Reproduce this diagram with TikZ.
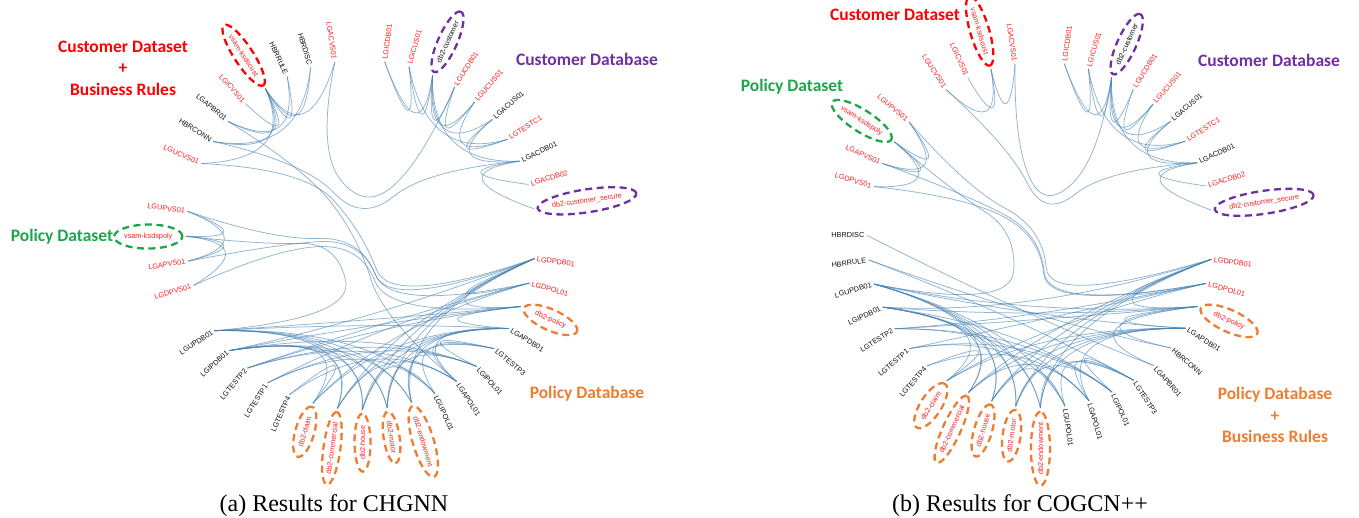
\documentclass[tikz,border=0pt]{standalone}
\usepackage{fontspec}
\setmainfont{Liberation Serif}
\newfontfamily\lblfont{Liberation Sans}
\newfontfamily\ttlfont{Carlito}
\usetikzlibrary{calc,shapes.geometric}
\definecolor{lred}{HTML}{FF1F1F}
\definecolor{tred}{HTML}{FF0000}
\definecolor{tpurple}{HTML}{7030A0}
\definecolor{tgreen}{HTML}{1DA64A}
\definecolor{torange}{HTML}{ED7D31}
\definecolor{edgeblue}{RGB}{70,130,180}
\definecolor{lblack}{HTML}{111111}
\tikzset{
 lbl/.style={font=\lblfont\fontsize{7.3}{8.5}\selectfont, inner sep=0pt},
 ell/.style={ellipse, draw=#1, line width=2.3pt, dash pattern=on 7pt off 4.5pt, inner xsep=0pt, inner ysep=0pt, minimum width=52pt, minimum height=19pt},
 bedge/.style={draw=edgeblue, line width=0.75pt, draw opacity=0.6},
 ttl/.style={font=\ttlfont\bfseries\fontsize{17.5}{21.5}\selectfont, align=center, inner sep=0pt},
 capt/.style={font=\fontsize{24}{27}\selectfont, inner sep=0pt, anchor=base},
}
% leaf: [extra options]{id}{center}{slot}{text}{text colour}{hub}
\newcommand\leaf[7][]{%
  \pgfmathsetmacro\ang{mod(\base+#4*360/44,360)}%
  \pgfmathsetmacro\rr{\Rad+2.5}%
  \coordinate (#2) at ($(#3)+(\ang:\Rad)$);
  \coordinate (h-#2) at (#7);
  \def\side{R}%
  \ifdim\ang pt>90pt \ifdim\ang pt<270.5pt \def\side{L}\fi\fi
  \if L\side
    \node[lbl, text=#6, anchor=east, rotate=\ang-180, #1] (t-#2) at ($(#3)+(\ang:\rr)$) {#5};
  \else
    \node[lbl, text=#6, anchor=west, rotate=\ang, #1] (t-#2) at ($(#3)+(\ang:\rr)$) {#5};
  \fi
}
% edge inside one group
\newcommand\eS[2]{%
  \path ($(#1)!0.5!(#2)$) coordinate (tM);
  \path ($(h-#1)!0.15!(tM)$) coordinate (tH);
  \draw[bedge] (#1) .. controls ($(#1)!0.6667!(tH)$) and ($(#2)!0.6667!(tH)$) .. (#2);
}
% edge between groups, through the root #1
\newcommand\eD[3]{%
  \path ($(#2)!0.25!(#3)$) coordinate (tA) ($(#2)!0.5!(#3)$) coordinate (tB) ($(#2)!0.75!(#3)$) coordinate (tC);
  \path ($(h-#2)!0.15!(tA)$) coordinate (q1) ($(#1)!0.15!(tB)$) coordinate (q2) ($(h-#3)!0.15!(tC)$) coordinate (q3);
  \path ($(q1)!0.5!(q2)$) coordinate (m1) ($(q2)!0.5!(q3)$) coordinate (m2);
  \draw[bedge] (#2) .. controls ($(#2)!0.6667!(q1)$) and ($(m1)!0.6667!(q1)$) .. (m1)
     .. controls ($(m1)!0.6667!(q2)$) and ($(m2)!0.6667!(q2)$) .. (m2)
     .. controls ($(m2)!0.6667!(q3)$) and ($(#3)!0.6667!(q3)$) .. (#3);
}
\newcommand\bottomedges[1]{%
 \eS{#1-UPDB}{#1-POL}\eS{#1-UPDB}{#1-ENDOW}\eS{#1-UPDB}{#1-HOUSE}\eS{#1-UPDB}{#1-MOTOR}\eS{#1-UPDB}{#1-COMM}\eS{#1-UPDB}{#1-APDB}
 \eS{#1-IPDB}{#1-POL}\eS{#1-IPDB}{#1-ENDOW}\eS{#1-IPDB}{#1-HOUSE}\eS{#1-IPDB}{#1-MOTOR}\eS{#1-IPDB}{#1-COMM}\eS{#1-IPDB}{#1-CLAIM}\eS{#1-IPDB}{#1-DPDB}
 \eS{#1-TP2}{#1-IPOL}\eS{#1-TP2}{#1-APOL}\eS{#1-TP2}{#1-POL}\eS{#1-TP2}{#1-DPOL}
 \eS{#1-TP1}{#1-IPOL}\eS{#1-TP1}{#1-UPOL}\eS{#1-TP1}{#1-DPOL}
 \eS{#1-TP4}{#1-APOL}\eS{#1-TP4}{#1-CLAIM}
 \eS{#1-APDB}{#1-POL}\eS{#1-APDB}{#1-ENDOW}\eS{#1-APDB}{#1-HOUSE}\eS{#1-APDB}{#1-MOTOR}\eS{#1-APDB}{#1-COMM}\eS{#1-APDB}{#1-CLAIM}
 \eS{#1-DPDB}{#1-POL}\eS{#1-DPDB}{#1-ENDOW}\eS{#1-DPDB}{#1-HOUSE}\eS{#1-DPDB}{#1-MOTOR}\eS{#1-DPDB}{#1-COMM}
 \eS{#1-DPOL}{#1-DPDB}\eS{#1-DPOL}{#1-CLAIM}
 \eS{#1-UPOL}{#1-UPDB}\eS{#1-UPOL}{#1-HOUSE}
 \eS{#1-APOL}{#1-APDB}\eS{#1-APOL}{#1-COMM}
 \eS{#1-IPOL}{#1-IPDB}\eS{#1-IPOL}{#1-MOTOR}
 \eS{#1-TP3}{#1-UPOL}\eS{#1-TP3}{#1-APOL}\eS{#1-TP3}{#1-IPOL}\eS{#1-TP3}{#1-ENDOW}
}
\newcommand\custdbedges[1]{%
 \eS{#1-CUST}{#1-ICDB}\eS{#1-CUST}{#1-ICUS}\eS{#1-CUST}{#1-UCDB}\eS{#1-CUST}{#1-ACDB}\eS{#1-CUST}{#1-UCUS}\eS{#1-CUST}{#1-ACUS}
 \eS{#1-ICUS}{#1-ICDB}\eS{#1-UCUS}{#1-UCDB}\eS{#1-ACUS}{#1-ACDB}
 \eS{#1-TC1}{#1-ICUS}\eS{#1-TC1}{#1-UCUS}\eS{#1-TC1}{#1-ACUS}
 \eS{#1-ACDB}{#1-ACDB2}\eS{#1-ACDB}{#1-CSEC}
}
\newcommand\poldsedges[1]{%
 \eS{#1-KPOL}{#1-UPVS}\eS{#1-KPOL}{#1-APVS}\eS{#1-KPOL}{#1-DPVS}\eS{#1-UPVS}{#1-APVS}
}
% customer database leaves, slots 33-42 (same in both pictures)
\newcommand\custdbleaves[2]{%
 \leaf[ell=tpurple, minimum height=23pt]{#1-CSEC}{#2}{33}{db2-customer\_secure}{lred}{#1-G4}
 \leaf{#1-ACDB2}{#2}{34}{LGACDB02}{lred}{#1-G4}
 \leaf{#1-ACDB}{#2}{35}{LGACDB01}{lblack}{#1-G4}
 \leaf{#1-TC1}{#2}{36}{LGTESTC1}{lred}{#1-G4}
 \leaf{#1-ACUS}{#2}{37}{LGACUS01}{lblack}{#1-G4}
 \leaf{#1-UCUS}{#2}{38}{LGUCUS01}{lred}{#1-G4}
 \leaf{#1-UCDB}{#2}{39}{LGUCDB01}{lred}{#1-G4}
 \leaf[ell=tpurple, minimum width=66pt]{#1-CUST}{#2}{40}{db2-customer}{lblack}{#1-G4}
 \leaf{#1-ICUS}{#2}{41}{LGICUS01}{lred}{#1-G4}
 \leaf{#1-ICDB}{#2}{42}{LGICDB01}{lred}{#1-G4}
}
\begin{document}
\begin{tikzpicture}[x=1pt,y=1pt]
\useasboundingbox (0,-518) rectangle (1359,0);
\fill[white] (0,-518) rectangle (1359,0);

%================ (a) CHGNN =================
\coordinate (Oa) at (361,-235);
\def\Rad{175}\def\base{98.6}
\coordinate (a-G1) at ($(Oa)+(127.2:87.5)$);
\coordinate (a-G2) at ($(Oa)+(184.5:87.5)$);
\coordinate (a-G3) at ($(Oa)+(282.7:87.5)$);
\coordinate (a-G4) at ($(Oa)+(45.4:87.5)$);
\leaf{a-ACVS}{Oa}{0}{LGACVS01}{lred}{a-G1}
\leaf{a-HDISC}{Oa}{1}{HBRDISC}{lblack}{a-G1}
\leaf{a-HRULE}{Oa}{2}{HBRRULE}{lblack}{a-G1}
\leaf[ell=tred, minimum width=72pt]{a-KCUST}{Oa}{3}{vsam-ksdscust}{lred}{a-G1}
\leaf{a-ICVS}{Oa}{4}{LGICVS01}{lred}{a-G1}
\leaf{a-APBR}{Oa}{5}{LGAPBR01}{lblack}{a-G1}
\leaf{a-HCONN}{Oa}{6}{HBRCONN}{lblack}{a-G1}
\leaf{a-UCVS}{Oa}{7}{LGUCVS01}{lred}{a-G1}
\leaf{a-UPVS}{Oa}{9}{LGUPVS01}{lred}{a-G2}
\leaf[ell=tgreen, minimum height=24pt]{a-KPOL}{Oa}{10}{vsam-ksdspoly}{lred}{a-G2}
\leaf{a-APVS}{Oa}{11}{LGAPVS01}{lred}{a-G2}
\leaf{a-DPVS}{Oa}{12}{LGDPVS01}{lred}{a-G2}
\leaf{a-UPDB}{Oa}{14}{LGUPDB01}{lblack}{a-G3}
\leaf{a-IPDB}{Oa}{15}{LGIPDB01}{lblack}{a-G3}
\leaf{a-TP2}{Oa}{16}{LGTESTP2}{lblack}{a-G3}
\leaf{a-TP1}{Oa}{17}{LGTESTP1}{lblack}{a-G3}
\leaf{a-TP4}{Oa}{18}{LGTESTP4}{lblack}{a-G3}
\leaf[ell=torange]{a-CLAIM}{Oa}{19}{db2-claim}{lred}{a-G3}
\leaf[ell=torange, minimum height=17pt]{a-COMM}{Oa}{20}{db2-commercial}{lred}{a-G3}
\leaf[ell=torange, minimum width=58pt, minimum height=16pt]{a-HOUSE}{Oa}{21}{db2-house}{lred}{a-G3}
\leaf[ell=torange, minimum height=16pt]{a-MOTOR}{Oa}{22}{db2-motor}{lred}{a-G3}
\leaf[ell=torange, minimum height=21pt]{a-ENDOW}{Oa}{23}{db2-endowment}{lred}{a-G3}
\leaf{a-UPOL}{Oa}{24}{LGUPOL01}{lblack}{a-G3}
\leaf{a-APOL}{Oa}{25}{LGAPOL01}{lblack}{a-G3}
\leaf{a-IPOL}{Oa}{26}{LGIPOL01}{lblack}{a-G3}
\leaf{a-TP3}{Oa}{27}{LGTESTP3}{lblack}{a-G3}
\leaf{a-APDB}{Oa}{28}{LGAPDB01}{lblack}{a-G3}
\leaf[ell=torange, minimum width=58pt, minimum height=21pt]{a-POL}{Oa}{29}{db2-policy}{lred}{a-G3}
\leaf{a-DPOL}{Oa}{30}{LGDPOL01}{lred}{a-G3}
\leaf{a-DPDB}{Oa}{31}{LGDPDB01}{lred}{a-G3}
\custdbleaves{a}{Oa}
% edges
\eS{a-KCUST}{a-ACVS}\eS{a-KCUST}{a-HDISC}\eS{a-KCUST}{a-HRULE}\eS{a-KCUST}{a-ICVS}
\eS{a-KCUST}{a-APBR}\eS{a-KCUST}{a-HCONN}\eS{a-KCUST}{a-UCVS}\eS{a-APBR}{a-HRULE}\eS{a-HCONN}{a-HDISC}
\poldsedges{a}
\custdbedges{a}
\bottomedges{a}
\eD{Oa}{a-HCONN}{a-ACDB}
\eD{Oa}{a-ACVS}{a-UCDB}
\eD{Oa}{a-APBR}{a-APOL}
\eD{Oa}{a-KPOL}{a-UPDB}
\eD{Oa}{a-UPVS}{a-DPOL}
\eD{Oa}{a-APVS}{a-DPDB}
\eD{Oa}{a-DPVS}{a-POL}
\eD{Oa}{a-UCVS}{a-DPDB}
% titles
\node[ttl, text=tred] (a-t1) at (123,-68) {Customer Dataset\\+\\Business Rules};
\node[ttl, text=tpurple] (a-t2) at (587,-59) {Customer Database};
\node[ttl, text=tgreen] (a-t3) at (62,-237) {Policy Dataset};
\node[ttl, text=torange] (a-t4) at (587,-394) {Policy Database};
\node[capt] (a-cap) at (334,-511.5) {(a) Results for CHGNN};

%================ (b) COGCN++ =================
\coordinate (Ob) at (1040,-235);
\def\Rad{173}\def\base{98.3}
\coordinate (b-G1) at ($(Ob)+(110.6:86.5)$);
\coordinate (b-G2) at ($(Ob)+(151.5:86.5)$);
\coordinate (b-G3) at ($(Ob)+(266.0:86.5)$);
\coordinate (b-G4) at ($(Ob)+(45.1:86.5)$);
\leaf{b-ACVS}{Ob}{0}{LGACVS01}{lred}{b-G1}
\leaf[ell=tred, minimum width=72pt]{b-KCUST}{Ob}{1}{vsam-ksdscust}{lred}{b-G1}
\leaf{b-ICVS}{Ob}{2}{LGICVS01}{lred}{b-G1}
\leaf{b-UCVS}{Ob}{3}{LGUCVS01}{lred}{b-G1}
\leaf{b-UPVS}{Ob}{5}{LGUPVS01}{lred}{b-G2}
\leaf[ell=tgreen, minimum width=70pt, minimum height=22pt]{b-KPOL}{Ob}{6}{vsam-ksdspoly}{lred}{b-G2}
\leaf{b-APVS}{Ob}{7}{LGAPVS01}{lred}{b-G2}
\leaf{b-DPVS}{Ob}{8}{LGDPVS01}{lred}{b-G2}
\leaf{b-HDISC}{Ob}{10}{HBRDISC}{lblack}{b-G3}
\leaf{b-HRULE}{Ob}{11}{HBRRULE}{lblack}{b-G3}
\leaf{b-UPDB}{Ob}{12}{LGUPDB01}{lblack}{b-G3}
\leaf{b-IPDB}{Ob}{13}{LGIPDB01}{lblack}{b-G3}
\leaf{b-TP2}{Ob}{14}{LGTESTP2}{lblack}{b-G3}
\leaf{b-TP1}{Ob}{15}{LGTESTP1}{lblack}{b-G3}
\leaf{b-TP4}{Ob}{16}{LGTESTP4}{lblack}{b-G3}
\leaf[ell=torange, minimum height=21pt]{b-CLAIM}{Ob}{17}{db2-claim}{lred}{b-G3}
\leaf[ell=torange, minimum height=18pt]{b-COMM}{Ob}{18}{db2-commercial}{lred}{b-G3}
\leaf[ell=torange, minimum width=54pt, minimum height=18pt]{b-HOUSE}{Ob}{19}{db2-house}{lred}{b-G3}
\leaf[ell=torange, minimum height=18pt]{b-MOTOR}{Ob}{20}{db2-motor}{lred}{b-G3}
\leaf[ell=torange, minimum height=19pt]{b-ENDOW}{Ob}{21}{db2-endowment}{lred}{b-G3}
\leaf{b-UPOL}{Ob}{22}{LGUPOL01}{lblack}{b-G3}
\leaf{b-APOL}{Ob}{23}{LGAPOL01}{lblack}{b-G3}
\leaf{b-IPOL}{Ob}{24}{LGIPOL01}{lblack}{b-G3}
\leaf{b-TP3}{Ob}{25}{LGTESTP3}{lblack}{b-G3}
\leaf{b-APBR}{Ob}{26}{LGAPBR01}{lblack}{b-G3}
\leaf{b-HCONN}{Ob}{27}{HBRCONN}{lblack}{b-G3}
\leaf{b-APDB}{Ob}{28}{LGAPDB01}{lblack}{b-G3}
\leaf[ell=torange, minimum width=62pt, minimum height=22pt]{b-POL}{Ob}{29}{db2-policy}{lred}{b-G3}
\leaf{b-DPOL}{Ob}{30}{LGDPOL01}{lred}{b-G3}
\leaf{b-DPDB}{Ob}{31}{LGDPDB01}{lred}{b-G3}
\custdbleaves{b}{Ob}
% edges
\eS{b-KCUST}{b-ACVS}\eS{b-KCUST}{b-ICVS}\eS{b-KCUST}{b-UCVS}
\poldsedges{b}
\custdbedges{b}
\bottomedges{b}
\eS{b-HDISC}{b-APBR}\eS{b-HRULE}{b-HCONN}\eS{b-HRULE}{b-TP3}
\eS{b-APBR}{b-POL}\eS{b-HCONN}{b-POL}
\eD{Ob}{b-ACVS}{b-CUST}
\eD{Ob}{b-UCVS}{b-ACDB}
\eD{Ob}{b-KPOL}{b-UPDB}
\eD{Ob}{b-UPVS}{b-DPDB}
\eD{Ob}{b-APVS}{b-DPOL}
\eD{Ob}{b-DPVS}{b-DPOL}
% titles
\node[ttl, text=tred] (b-t1) at (895,-15) {Customer Dataset};
\node[ttl, text=tgreen] (b-t2) at (792,-87) {Policy Dataset};
\node[ttl, text=tpurple] (b-t3) at (1269,-60) {Customer Database};
\node[ttl, text=torange] (b-t4) at (1275,-415) {Policy Database\\+\\Business Rules};
\node[capt] (b-cap) at (1020,-511.5) {(b) Results for COGCN++};
\end{tikzpicture}
\end{document}
